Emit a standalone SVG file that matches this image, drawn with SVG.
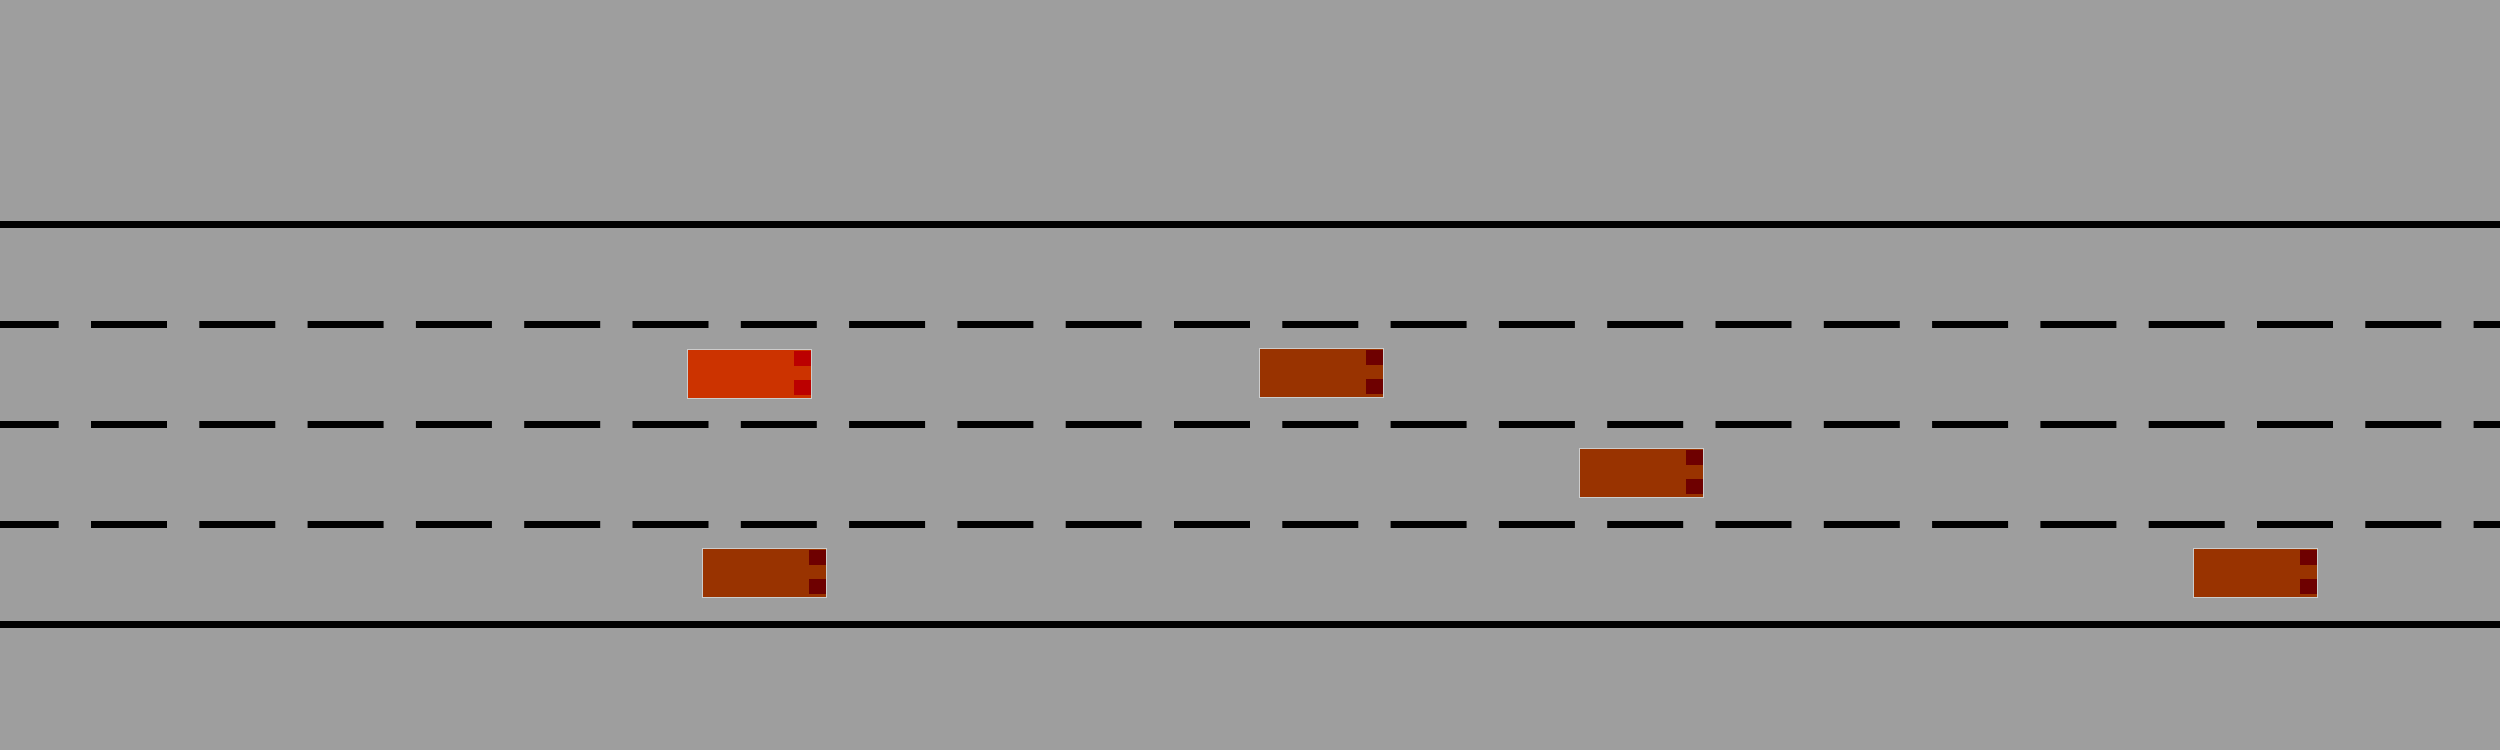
<svg xmlns="http://www.w3.org/2000/svg" width="2500" height="750" viewBox="0 0 2500 750">
  <defs>
    <style>
      .solid { stroke: #000; stroke-width: 7; fill: none; }
      .dash { stroke: #000; stroke-width: 7; fill: none; stroke-dasharray: 76 32.3; stroke-dashoffset: 17.3; }
      .body { stroke: #cccccc; stroke-width: 1; }
      .ego .body { fill: #cc3300; }
      .ego .light { fill: #bb0000; }
      .other .body { fill: #993300; }
      .other .light { fill: #6e0000; }
    </style>
  </defs>
  <rect width="2500" height="750" fill="#9e9e9e"/>
  <g id="road-markings">
    <line class="solid" x1="0" y1="224.5" x2="2500" y2="224.5"/>
    <line class="dash" x1="0" y1="324.5" x2="2500" y2="324.5"/>
    <line class="dash" x1="0" y1="424.5" x2="2500" y2="424.5"/>
    <line class="dash" x1="0" y1="524.5" x2="2500" y2="524.5"/>
    <line class="solid" x1="0" y1="624.5" x2="2500" y2="624.5"/>
  </g>
  <g id="car-ego" class="ego" transform="translate(687,349)">
    <rect class="body" x="0.5" y="0.5" width="124" height="49"/>
    <rect class="light" x="107" y="2" width="17" height="15"/>
    <rect class="light" x="107" y="31" width="17" height="15"/>
  </g>
  <g id="car-2" class="other" transform="translate(1259,348)">
    <rect class="body" x="0.5" y="0.5" width="124" height="49"/>
    <rect class="light" x="107" y="2" width="17" height="15"/>
    <rect class="light" x="107" y="31" width="17" height="15"/>
  </g>
  <g id="car-3" class="other" transform="translate(1579,448)">
    <rect class="body" x="0.5" y="0.5" width="124" height="49"/>
    <rect class="light" x="107" y="2" width="17" height="15"/>
    <rect class="light" x="107" y="31" width="17" height="15"/>
  </g>
  <g id="car-4" class="other" transform="translate(702,548)">
    <rect class="body" x="0.5" y="0.5" width="124" height="49"/>
    <rect class="light" x="107" y="2" width="17" height="15"/>
    <rect class="light" x="107" y="31" width="17" height="15"/>
  </g>
  <g id="car-5" class="other" transform="translate(2193,548)">
    <rect class="body" x="0.5" y="0.5" width="124" height="49"/>
    <rect class="light" x="107" y="2" width="17" height="15"/>
    <rect class="light" x="107" y="31" width="17" height="15"/>
  </g>
</svg>
